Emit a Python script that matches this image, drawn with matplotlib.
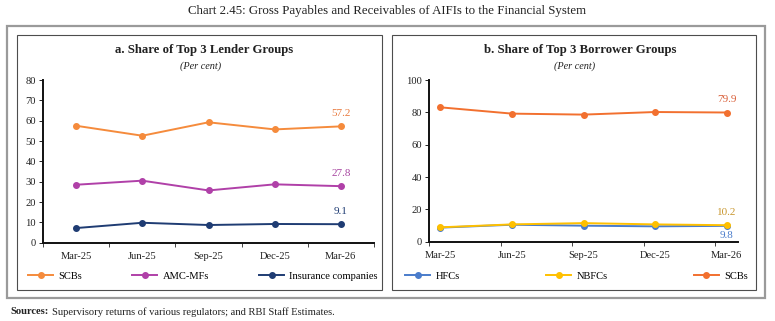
import matplotlib
matplotlib.use("Agg")
import matplotlib.pyplot as plt
from matplotlib.patches import Rectangle
import numpy as np

plt.rcParams['font.family'] = ['Liberation Serif', 'DejaVu Serif']

quarters = ["Mar-25", "Jun-25", "Sep-25", "Dec-25", "Mar-26"]

# Panel a: lenders
lend_scbs = [57.5, 52.6, 59.2, 55.7, 57.2]
lend_amc = [28.5, 30.5, 25.7, 28.7, 27.8]
lend_ins = [7.2, 9.8, 8.7, 9.2, 9.1]

# Panel b: borrowers
bor_hfcs = [8.7, 10.5, 9.9, 9.5, 9.8]
bor_nbfcs = [8.9, 10.7, 11.5, 10.7, 10.2]
bor_scbs = [83.1, 79.2, 78.6, 80.2, 79.9]

W, H = 775, 321
fig = plt.figure(figsize=(W / 100, H / 100), dpi=100)

def fx(x):
    return x / W

def fy(y):
    return 1 - y / H

def add_rect(x0, y0, x1, y1, color, lw):
    fig.patches.append(Rectangle((fx(x0), fy(y1)), fx(x1) - fx(x0), fy(y0) - fy(y1),
                                 transform=fig.transFigure, fill=False,
                                 edgecolor=color, linewidth=lw))

add_rect(7, 26, 765, 298, "#9a9a9a", 1.6)
add_rect(17, 35, 382, 290, "#4d4d4d", 0.8)
add_rect(392, 35, 756, 290, "#4d4d4d", 0.8)

fig.text(0.5, fy(11), "Chart 2.45: Gross Payables and Receivables of AIFIs to the Financial System",
         ha="center", va="center", fontsize=9.3, color="#222222")
fig.text(fx(10), fy(312), "Sources:", ha="left", va="center", fontsize=7.6, fontweight="bold", color="#222222")
fig.text(fx(52), fy(312), "Supervisory returns of various regulators; and RBI Staff Estimates.",
         ha="left", va="center", fontsize=7.6, color="#222222")

fig.text(fx(204), fy(50), "a. Share of Top 3 Lender Groups", ha="center", va="center",
         fontsize=9.2, fontweight="bold", color="#222222")
fig.text(fx(580), fy(50), "b. Share of Top 3 Borrower Groups", ha="center", va="center",
         fontsize=9.2, fontweight="bold", color="#222222")
fig.text(fx(201), fy(66), "(Per cent)", ha="center", va="center", fontsize=7.4, style="italic", color="#222222")
fig.text(fx(575), fy(66), "(Per cent)", ha="center", va="center", fontsize=7.4, style="italic", color="#222222")

def make_ax(x0, y0, x1, y1):
    ax = fig.add_axes([fx(x0), fy(y1), fx(x1) - fx(x0), fy(y0) - fy(y1)])
    for s in ["top", "right"]:
        ax.spines[s].set_visible(False)
    for s in ["left", "bottom"]:
        ax.spines[s].set_color("#111111")
        ax.spines[s].set_linewidth(1.4)
    ax.tick_params(axis="y", labelsize=7.6, length=3, width=0.7, pad=2, colors="#222222")
    ax.tick_params(axis="x", which="major", labelsize=7.6, length=0, pad=7, colors="#222222")
    ax.tick_params(axis="x", which="minor", length=3, width=0.7, color="#444444")
    return ax

x = np.arange(len(quarters))
lw, ms = 1.4, 4.0

# Panel a
ax1 = make_ax(43, 80, 374, 242.7)
c_scb1, c_amc, c_ins = "#F58B3C", "#B040A8", "#1F3C73"
ax1.plot(x, lend_scbs, color=c_scb1, lw=lw, marker="o", ms=ms, label="SCBs")
ax1.plot(x, lend_amc, color=c_amc, lw=lw, marker="o", ms=ms, label="AMC-MFs")
ax1.plot(x, lend_ins, color=c_ins, lw=lw, marker="o", ms=ms, label="Insurance companies")
ax1.set_xlim(-0.5, 4.5)
ax1.set_ylim(0, 80)
ax1.set_yticks(np.arange(0, 81, 10))
ax1.set_xticks(x)
ax1.set_xticklabels(quarters)
ax1.set_xticks(np.arange(-0.5, 4.6, 1.0), minor=True)
ax1.annotate(f"{lend_scbs[-1]:.1f}", (x[-1], lend_scbs[-1]), xytext=(0, 6), textcoords="offset points",
             ha="center", va="bottom", fontsize=8, color="#E8773A")
ax1.annotate(f"{lend_amc[-1]:.1f}", (x[-1], lend_amc[-1]), xytext=(0, 6), textcoords="offset points",
             ha="center", va="bottom", fontsize=8, color="#A744A0")
ax1.annotate(f"{lend_ins[-1]:.1f}", (x[-1], lend_ins[-1]), xytext=(0, 6), textcoords="offset points",
             ha="center", va="bottom", fontsize=8, color="#1F3C73")
leg1 = ax1.legend(loc="center", bbox_to_anchor=(fx(28), fy(283), fx(378) - fx(28), fy(269) - fy(283)),
                  bbox_transform=fig.transFigure, ncol=3, mode="expand", frameon=False,
                  fontsize=7.6, handlelength=2.4, handletextpad=0.5, borderaxespad=0, borderpad=0)

# Panel b
ax2 = make_ax(429, 80, 738, 241.7)
c_hfc, c_nbfc, c_scb2 = "#4A7CCB", "#FFC000", "#F2702F"
ax2.plot(x, bor_hfcs, color=c_hfc, lw=lw, marker="o", ms=ms, label="HFCs")
ax2.plot(x, bor_nbfcs, color=c_nbfc, lw=lw, marker="o", ms=ms, label="NBFCs")
ax2.plot(x, bor_scbs, color=c_scb2, lw=lw, marker="o", ms=ms, label="SCBs")
ax2.set_xlim(-0.16, 4.16)
ax2.set_ylim(0, 100)
ax2.set_yticks(np.arange(0, 101, 20))
ax2.set_xticks(x)
ax2.set_xticklabels(quarters)
ax2.set_xticks(x - 0.16, minor=True)
ax2.annotate(f"{bor_scbs[-1]:.1f}", (x[-1], bor_scbs[-1]), xytext=(0, 6), textcoords="offset points",
             ha="center", va="bottom", fontsize=8, color="#D9603A")
ax2.annotate(f"{bor_nbfcs[-1]:.1f}", (x[-1], bor_nbfcs[-1]), xytext=(0, 6), textcoords="offset points",
             ha="center", va="bottom", fontsize=8, color="#C8962E")
ax2.annotate(f"{bor_hfcs[-1]:.1f}", (x[-1], bor_hfcs[-1]), xytext=(0, -4), textcoords="offset points",
             ha="center", va="top", fontsize=8, color="#4A7CCB")
leg2 = ax2.legend(loc="center", bbox_to_anchor=(fx(405), fy(283), fx(748) - fx(405), fy(269) - fy(283)),
                  bbox_transform=fig.transFigure, ncol=3, mode="expand", frameon=False,
                  fontsize=7.6, handlelength=2.4, handletextpad=0.5, borderaxespad=0, borderpad=0)

fig.savefig("out.png", dpi=100)
